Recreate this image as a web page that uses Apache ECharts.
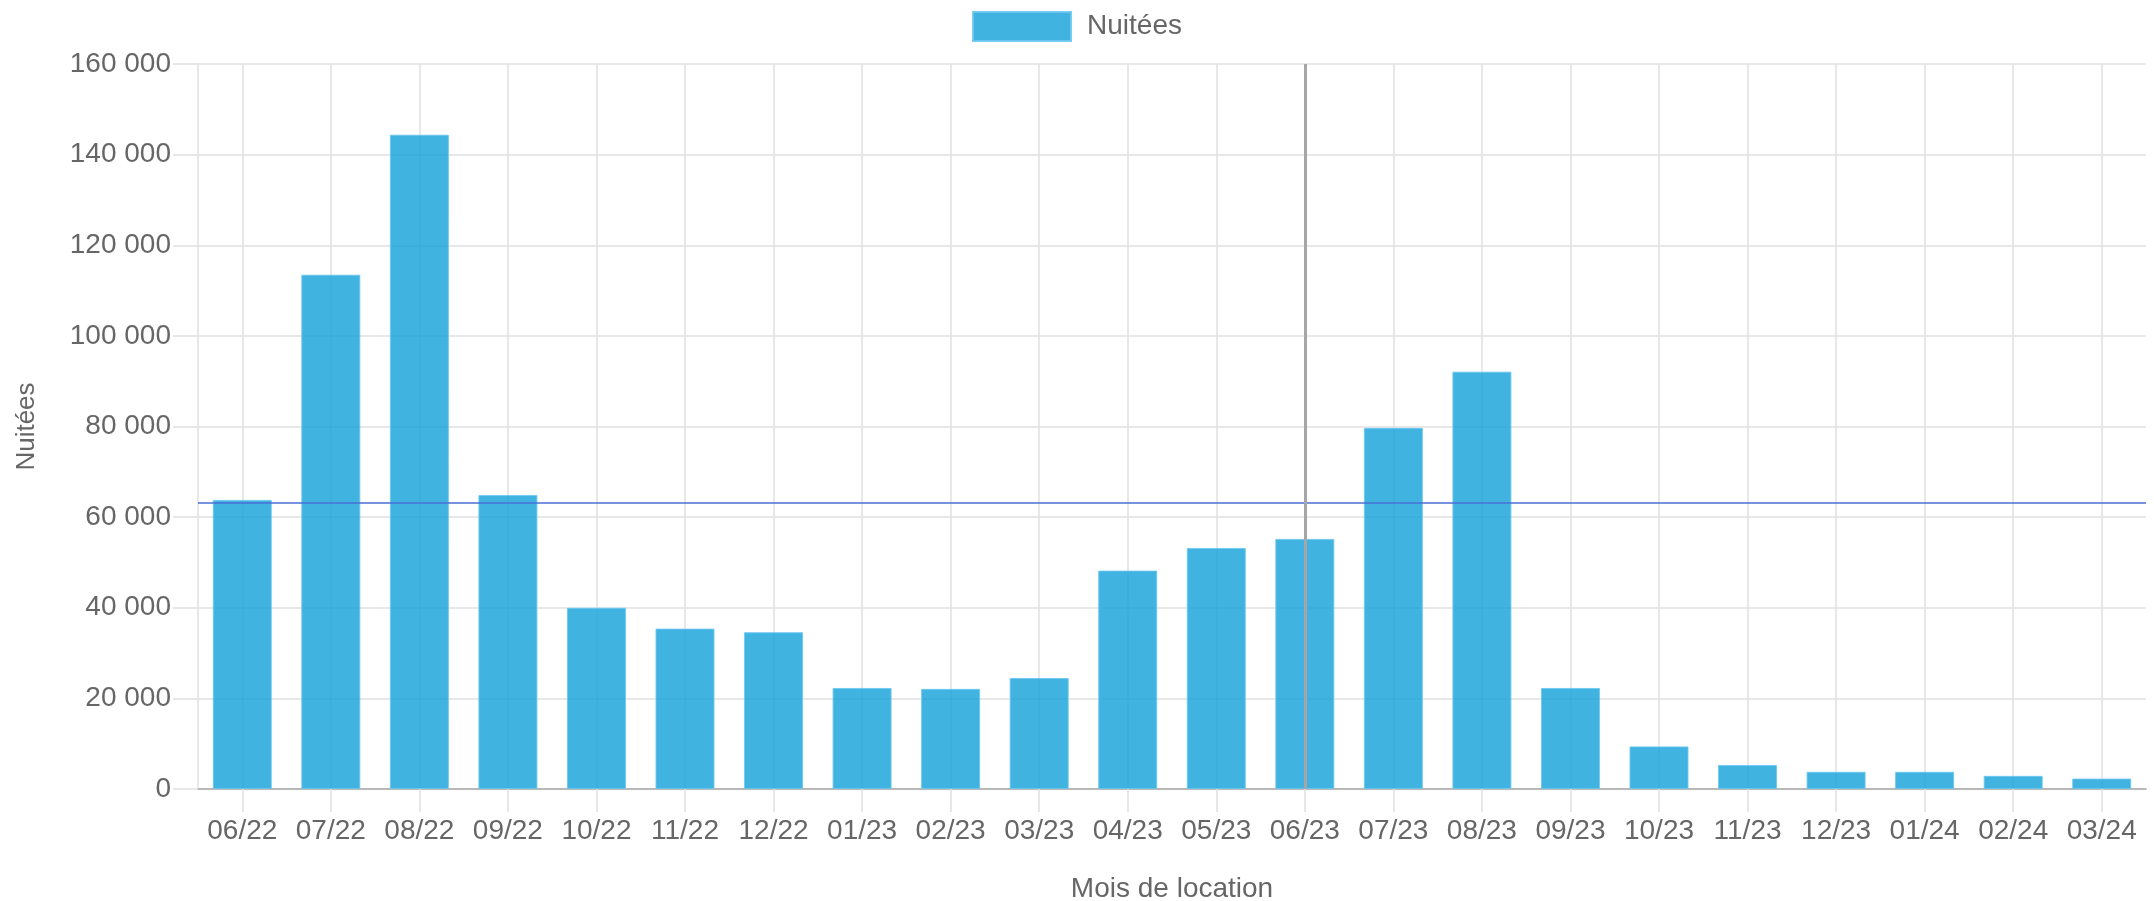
<!DOCTYPE html>
<html lang="fr">
<head>
<meta charset="utf-8">
<title>Nuitées par mois de location</title>
<script src="https://cdn.jsdelivr.net/npm/echarts@6/dist/echarts.min.js"></script>
<style>
  html, body { margin: 0; padding: 0; background: #ffffff; }
  #chart { width: 2154px; height: 901px; }
</style>
</head>
<body>
<div id="chart"></div>
<script>
// Mois de location (MM/AA)
const months = [
  '06/22', '07/22', '08/22', '09/22', '10/22', '11/22', '12/22',
  '01/23', '02/23', '03/23', '04/23', '05/23', '06/23', '07/23',
  '08/23', '09/23', '10/23', '11/23', '12/23', '01/24', '02/24', '03/24'
];

// Nuitées par mois
const nuitees = [
  63800, 113500, 144400, 64900, 40000, 35400, 34600,
  22300, 22100, 24500, 48200, 53200, 55200, 79700,
  92100, 22300, 9400, 5300, 3800, 3800, 2900, 2300
];

// Repères : niveau de référence et mois marqué
const referenceLevel = 63100;
const markedMonth = '06/23';

// Axe des ordonnées
const yMin = 0;
const yMax = 160000;
const yStep = 20000;

const FONT = "'Liberation Sans', Arial, Helvetica, sans-serif";
const TEXT = '#666666';
const GRID = '#e0e0e0';

function formatThousands(v) {
  return String(v).replace(/\B(?=(\d{3})+(?!\d))/g, ' ');
}

const chart = echarts.init(document.getElementById('chart'), null, { renderer: 'canvas' });

chart.setOption({
  animation: false,
  backgroundColor: '#ffffff',
  textStyle: { fontFamily: FONT },
  legend: {
    left: 'center',
    top: 6,
    icon: 'rect',
    itemWidth: 98,
    itemHeight: 29,
    textStyle: { fontFamily: FONT, fontSize: 28, color: TEXT, padding: [0, 0, 0, 11] },
    data: ['Nuitées']
  },
  grid: {
    left: 198,
    right: 8,
    top: 64,
    bottom: 112,
    outerBoundsMode: 'none'
  },
  xAxis: {
    type: 'category',
    data: months,
    boundaryGap: true,
    name: 'Mois de location',
    nameLocation: 'middle',
    nameGap: 86,
    nameTextStyle: { fontFamily: FONT, fontSize: 28, color: TEXT },
    axisLine: { show: true, lineStyle: { color: '#a8a8a8', width: 1.5 } },
    axisTick: { show: true, alignWithLabel: true, length: 23, lineStyle: { color: GRID, width: 1.5 } },
    axisLabel: { fontFamily: FONT, fontSize: 28, color: TEXT, margin: 28, interval: 0 },
    splitLine: { show: true, alignWithLabel: true, lineStyle: { color: GRID, width: 1.5 } }
  },
  yAxis: {
    type: 'value',
    min: yMin,
    max: yMax,
    interval: yStep,
    name: 'Nuitées',
    nameLocation: 'middle',
    nameGap: 158,
    nameRotate: 90,
    nameTextStyle: { fontFamily: FONT, fontSize: 26, color: TEXT },
    axisLine: { show: true, lineStyle: { color: GRID, width: 1.5 } },
    axisTick: { show: true, length: 25, lineStyle: { color: GRID, width: 1.5 } },
    axisLabel: {
      fontFamily: FONT, fontSize: 28, color: TEXT, margin: 27,
      formatter: formatThousands
    },
    splitLine: { show: true, lineStyle: { color: GRID, width: 1.5 } }
  },
  series: [{
    name: 'Nuitées',
    type: 'bar',
    data: nuitees,
    barWidth: 59,
    itemStyle: {
      color: 'rgba(16, 160, 218, 0.8)',
      borderColor: 'rgba(110, 200, 240, 0.9)',
      borderWidth: 1
    },
    markLine: {
      silent: true,
      symbol: 'none',
      label: { show: false },
      data: [
        { yAxis: referenceLevel, lineStyle: { color: '#4a6fd6', width: 1.5, type: 'solid' } },
        { xAxis: markedMonth, lineStyle: { color: '#a6a6a6', width: 3, type: 'solid' } }
      ]
    }
  }]
});
</script>
</body>
</html>
